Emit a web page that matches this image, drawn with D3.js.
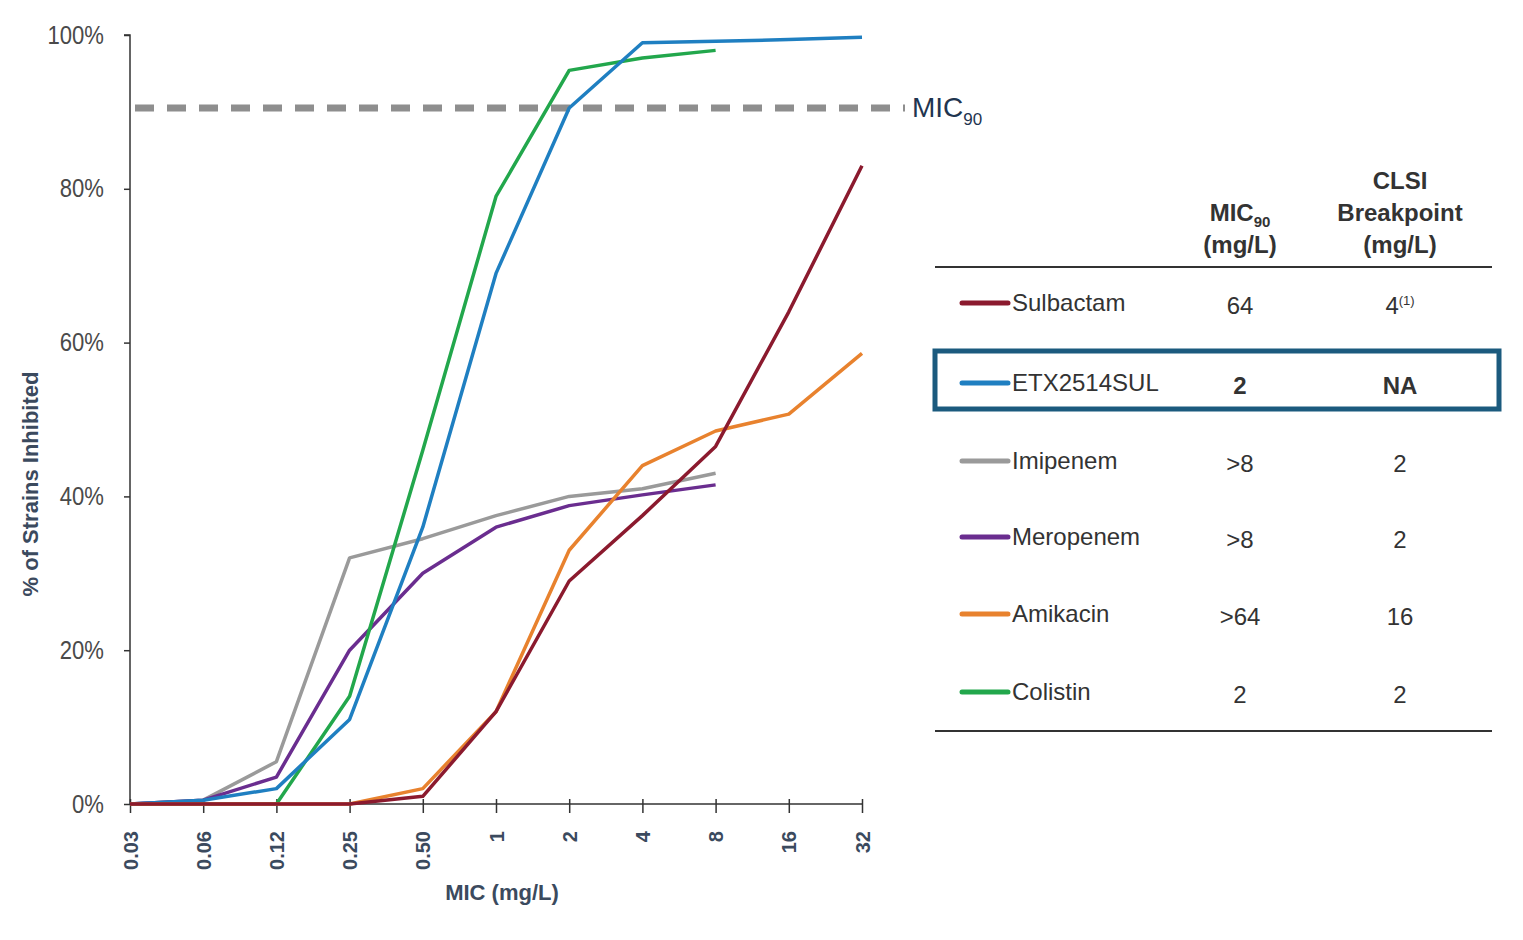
<!DOCTYPE html>
<html><head><meta charset="utf-8">
<script src="https://cdn.jsdelivr.net/npm/d3@7"></script>
<style>
body{margin:0;background:#fff;}
svg{display:block;}
.narrow{font-family:"Liberation Sans Narrow","Arial Narrow","Liberation Sans",Arial,sans-serif;}
.bold{font-family:"Liberation Sans",Arial,sans-serif;font-weight:bold;}
</style></head>
<body>
<svg id="chart" width="1523" height="940"></svg>
<script>
const micLabels = ["0.03","0.06","0.12","0.25","0.50","1","2","4","8","16","32"];
const yTicks = [0,20,40,60,80,100];
const mic90Level = 90.5;

const sulbactam = [0,0,0,0,1,12,29,37.5,46.5,64,83];
const etx2514sul = [0,0.5,2,11,36,69,90.5,99,99.2,99.4,99.7];
const imipenem = [0,0.5,5.5,32,34.5,37.5,40,41,43];
const meropenem = [0,0.5,3.5,20,30,36,38.8,40.2,41.5];
const amikacin = [0,0,0,0,2,12,33,44,48.5,50.7,58.6];
const colistin = [0,0,0,14,46,79,95.4,97,98];

const seriesNames = ["Sulbactam","ETX2514SUL","Imipenem","Meropenem","Amikacin","Colistin"];
const seriesColors = ["#8b1a2e","#1f7fc1","#9a9a9a","#6a2d8f","#e8822e","#22a74c"];
const seriesValues = [sulbactam,etx2514sul,imipenem,meropenem,amikacin,colistin];
const mic90Col = ["64","2",">8",">8",">64","2"];
const clsiCol = ["4","NA","2","2","16","2"];
const clsiSup = ["(1)","","","","",""];
const drawOrder = [2,3,5,1,4,0];

const svg = d3.select("#chart");
const x = d3.scalePoint().domain(micLabels).range([130,862]);
const y = d3.scaleLinear().domain([0,100]).range([804,35]);

// axes
const yAxis = svg.append("g").attr("transform","translate(130,0)")
  .call(d3.axisLeft(y).tickValues(yTicks).tickFormat(d=>d+"%").tickSize(6).tickPadding(26));
yAxis.select(".domain").attr("stroke","#333").attr("stroke-width",1.5).attr("d","M-6,35H0V804");
yAxis.selectAll(".tick line").attr("stroke","#333").attr("stroke-width",1.5);
yAxis.selectAll(".tick text").attr("class","narrow").attr("font-size",24).attr("fill","#4a4a4a")
  .attr("transform",function(){return "translate(-3,0)";})
  .each(function(){ const t=d3.select(this); t.attr("transform","scale(0.92,1.05)"); });
// re-place after scaling so right edge stays at x=-26
yAxis.selectAll(".tick text").attr("x",-26/0.92);

const xAxis = svg.append("g").attr("transform","translate(0,804)")
  .call(d3.axisBottom(x).tickSize(9).tickPadding(14));
xAxis.select(".domain").attr("stroke","#333").attr("stroke-width",1.5).attr("d","M130,0H862");
xAxis.selectAll(".tick line").attr("stroke","#333").attr("stroke-width",1.5).attr("y1",-5);
xAxis.selectAll(".tick text").attr("class","bold").attr("font-size",20).attr("fill","#3b4a5e")
  .attr("transform","rotate(-90)").attr("text-anchor","end").attr("x",-27).attr("y",0).attr("dy","0.35em");

svg.append("text").attr("class","bold").attr("x",502).attr("y",900).attr("text-anchor","middle")
  .attr("font-size",22).attr("fill","#3b4a5e").text("MIC (mg/L)");
svg.append("text").attr("class","bold").attr("transform","translate(38,484) rotate(-90)")
  .attr("text-anchor","middle").attr("font-size",22).attr("fill","#3b4a5e").text("% of Strains Inhibited");

// MIC90 dashed line
svg.append("line").attr("x1",135).attr("x2",905).attr("y1",y(mic90Level)).attr("y2",y(mic90Level))
  .attr("stroke","#8e8e8e").attr("stroke-width",7).attr("stroke-dasharray","19,13");
const m90 = svg.append("text").attr("class","narrow").attr("x",912).attr("y",y(mic90Level)+9)
  .attr("font-size",28).attr("fill","#1f3550");
m90.append("tspan").text("MIC");
m90.append("tspan").attr("font-size",17).attr("dy",8).text("90");

// lines
const line = d3.line().x((d,i)=>x(micLabels[i])).y(d=>y(d));
drawOrder.forEach(k=>{
  svg.append("path").datum(seriesValues[k]).attr("d",line).attr("fill","none")
    .attr("stroke",seriesColors[k]).attr("stroke-width",3.5).attr("stroke-linejoin","round");
});

// table
const rowY = [303,383,461,537,614,692];
const colA = 1240, colB = 1400;
svg.append("line").attr("x1",935).attr("x2",1492).attr("y1",267).attr("y2",267).attr("stroke","#333").attr("stroke-width",2);
svg.append("line").attr("x1",935).attr("x2",1492).attr("y1",731).attr("y2",731).attr("stroke","#333").attr("stroke-width",2);
const h1 = svg.append("text").attr("class","narrow").attr("font-weight","bold").attr("x",colA).attr("y",221)
  .attr("text-anchor","middle").attr("font-size",24).attr("fill","#333");
h1.append("tspan").text("MIC");
h1.append("tspan").attr("font-size",15).attr("dy",6).text("90");
svg.append("text").attr("class","narrow").attr("font-weight","bold").attr("x",colA).attr("y",253)
  .attr("text-anchor","middle").attr("font-size",24).attr("fill","#333").text("(mg/L)");
[["CLSI",189],["Breakpoint",221],["(mg/L)",253]].forEach(([t,yy])=>{
  svg.append("text").attr("class","narrow").attr("font-weight","bold").attr("x",colB).attr("y",yy)
    .attr("text-anchor","middle").attr("font-size",24).attr("fill","#333").text(t);
});
svg.append("rect").attr("x",935).attr("y",351).attr("width",564).attr("height",58)
  .attr("fill","none").attr("stroke","#1b5a7e").attr("stroke-width",5);

seriesNames.forEach((n,i)=>{
  const yy = rowY[i];
  const bold = i===1;
  svg.append("line").attr("x1",962).attr("x2",1008).attr("y1",yy).attr("y2",yy)
    .attr("stroke",seriesColors[i]).attr("stroke-width",5).attr("stroke-linecap","round");
  svg.append("text").attr("class","narrow").attr("x",1012).attr("y",yy+8).attr("font-size",24)
    .attr("fill","#333").text(n);
  svg.append("text").attr("class","narrow").attr("x",colA).attr("y",yy+11).attr("text-anchor","middle")
    .attr("font-size",24).attr("font-weight",bold?"bold":"normal").attr("fill","#333").text(mic90Col[i]);
  const t = svg.append("text").attr("class","narrow").attr("x",colB).attr("y",yy+11).attr("text-anchor","middle")
    .attr("font-size",24).attr("font-weight",bold?"bold":"normal").attr("fill","#333");
  t.append("tspan").text(clsiCol[i]);
  if(clsiSup[i]) t.append("tspan").attr("font-size",13).attr("dy",-9).text(clsiSup[i]);
});
</script>
</body></html>
